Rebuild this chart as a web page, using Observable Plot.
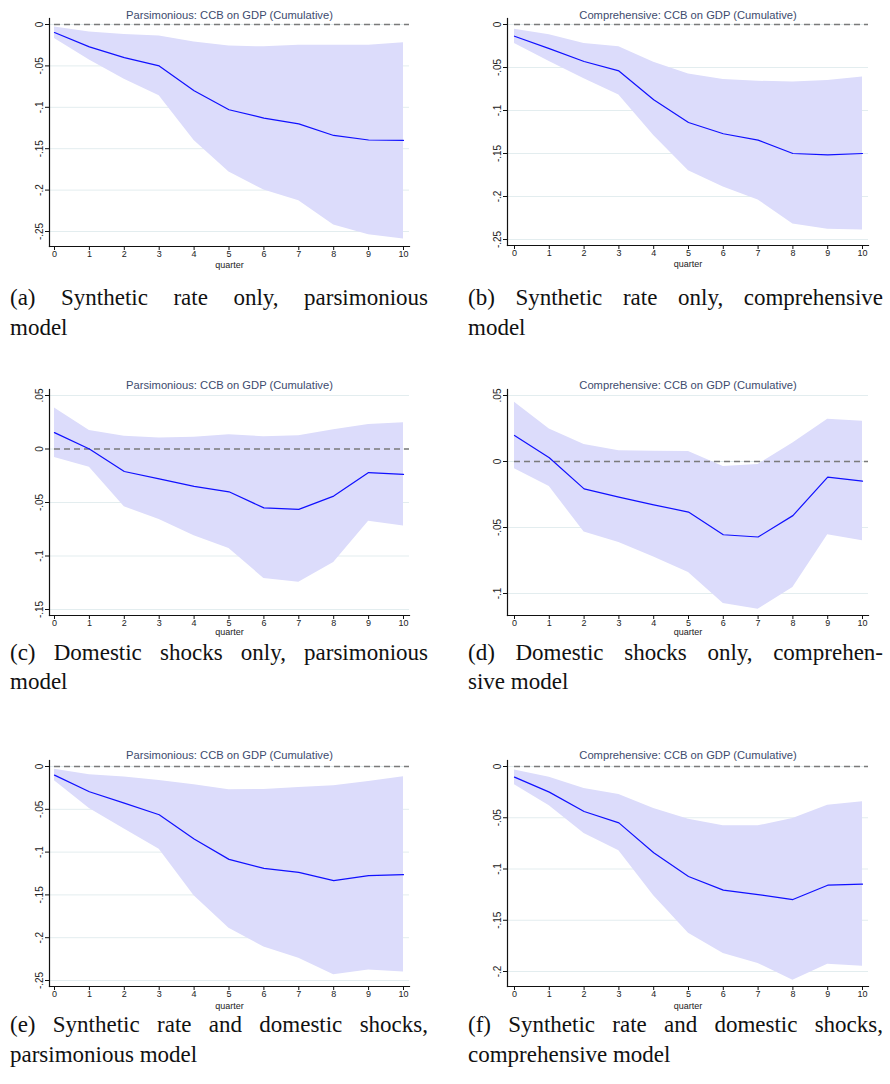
<!DOCTYPE html>
<html><head><meta charset="utf-8">
<script src="https://cdn.jsdelivr.net/npm/d3@7"></script>
<script src="https://cdn.jsdelivr.net/npm/@observablehq/plot@0.6"></script>
<style>
body{margin:0;background:#fff;}
#page{position:relative;width:890px;height:1084px;overflow:hidden;background:#fff;}
.panel{position:absolute;}
.cap{position:absolute;font-family:"Liberation Serif","Times New Roman",serif;font-size:23px;color:#111;}
.cap .l1{line-height:12px;text-align:justify;text-align-last:justify;white-space:nowrap;}
.cap .l2{line-height:29px;margin-top:8.5px;}
</style></head><body><div id="page"></div>
<script>
// ---------- data ----------
const quarters = [0,1,2,3,4,5,6,7,8,9,10];

// (a) Synthetic rate only, parsimonious
const irfA   = [-0.0097,-0.027,-0.040,-0.050,-0.080,-0.103,-0.113,-0.120,-0.134,-0.1395,-0.140];
const upperA = [-0.003,-0.009,-0.012,-0.014,-0.021,-0.026,-0.027,-0.025,-0.025,-0.025,-0.022];
const lowerA = [-0.017,-0.043,-0.066,-0.086,-0.140,-0.178,-0.200,-0.213,-0.242,-0.254,-0.259];
// (b) Synthetic rate only, comprehensive
const irfB   = [-0.0136,-0.028,-0.043,-0.054,-0.0875,-0.114,-0.127,-0.1345,-0.150,-0.1516,-0.150];
const upperB = [-0.0054,-0.012,-0.022,-0.026,-0.044,-0.0575,-0.064,-0.066,-0.067,-0.065,-0.061];
const lowerB = [-0.022,-0.043,-0.063,-0.082,-0.129,-0.170,-0.189,-0.204,-0.232,-0.238,-0.239];
// (c) Domestic shocks only, parsimonious
const irfC   = [0.0153,0.000,-0.021,-0.028,-0.035,-0.040,-0.055,-0.0564,-0.044,-0.022,-0.0237];
const upperC = [0.0383,0.0174,0.012,0.0103,0.011,0.0134,0.0115,0.0125,0.018,0.023,0.0246];
const lowerC = [-0.008,-0.017,-0.054,-0.066,-0.081,-0.093,-0.121,-0.1246,-0.106,-0.0676,-0.072];
// (d) Domestic shocks only, comprehensive
const irfD   = [0.0197,0.0028,-0.0207,-0.027,-0.0328,-0.0383,-0.0555,-0.0572,-0.041,-0.0118,-0.0149];
const upperD = [0.0449,0.0247,0.0129,0.0081,0.0078,0.0076,-0.0038,-0.0023,0.0141,0.032,0.0305];
const lowerD = [-0.0055,-0.019,-0.0534,-0.0613,-0.0723,-0.084,-0.1076,-0.112,-0.0955,-0.0555,-0.060];
// (e) Synthetic rate and domestic shocks, parsimonious
const irfE   = [-0.0101,-0.0295,-0.0428,-0.0564,-0.0848,-0.1085,-0.119,-0.1236,-0.1334,-0.1275,-0.1264];
const upperE = [-0.0031,-0.0097,-0.0124,-0.0163,-0.0214,-0.0272,-0.0268,-0.0245,-0.0226,-0.0175,-0.012];
const lowerE = [-0.0167,-0.049,-0.073,-0.0968,-0.151,-0.189,-0.211,-0.224,-0.2434,-0.2376,-0.240];
// (f) Synthetic rate and domestic shocks, comprehensive
const irfF   = [-0.0104,-0.025,-0.0439,-0.055,-0.0842,-0.1073,-0.1206,-0.125,-0.1298,-0.1158,-0.1148];
const upperF = [-0.0033,-0.0104,-0.0215,-0.0273,-0.041,-0.0514,-0.0579,-0.0579,-0.0507,-0.0377,-0.0345];
const lowerF = [-0.0179,-0.0384,-0.0654,-0.0823,-0.126,-0.1626,-0.1824,-0.1922,-0.2085,-0.193,-0.1948];

// tick labels (top to bottom)
const ticksA = [0,-0.05,-0.1,-0.15,-0.2,-0.25];
const ticksB = [0,-0.05,-0.1,-0.15,-0.2,-0.25];
const ticksC = [0.05,0,-0.05,-0.1,-0.15];
const ticksD = [0.05,0,-0.05,-0.1];
const ticksE = [0,-0.05,-0.1,-0.15,-0.2,-0.25];
const ticksF = [0,-0.05,-0.1,-0.15,-0.2];

const titleParsimonious = "Parsimonious: CCB on GDP (Cumulative)";
const titleComprehensive = "Comprehensive: CCB on GDP (Cumulative)";
const xLabel = "quarter";

const captions = [
  ["(a) Synthetic rate only, parsimonious", "model"],
  ["(b) Synthetic rate only, comprehensive", "model"],
  ["(c) Domestic shocks only, parsimonious", "model"],
  ["(d) Domestic shocks only, comprehen-", "sive model"],
  ["(e) Synthetic rate and domestic shocks,", "parsimonious model"],
  ["(f) Synthetic rate and domestic shocks,", "comprehensive model"]
];

// ---------- layout ----------
const cols = [
  {left: 0,   width: 430, marginLeft: 49, marginRight: 21, insetLeft: 5, insetRight: 6, capLeft: 10,  capWidth: 418},
  {left: 445, width: 440, marginLeft: 62, marginRight: 17, insetLeft: 7, insetRight: 6, capLeft: 468, capWidth: 415}
];
const rows = [
  {top: 0,   height: 275, marginTop: 18, titleDy: -7, quarterDy: 21,   capTop: 292.25},
  {top: 370, height: 275, marginTop: 19, titleDy: -8, quarterDy: 19.5, capTop: 646.75},
  {top: 740, height: 275, marginTop: 20, titleDy: -9, quarterDy: 22,   capTop: 1019.25}
];

const panels = [
  {r:0,c:0, irf:irfA, hi:upperA, lo:lowerA, ticks:ticksA, title:titleParsimonious, mb:29, ib:15},
  {r:0,c:1, irf:irfB, hi:upperB, lo:lowerB, ticks:ticksB, title:titleComprehensive, mb:30, ib:6},
  {r:1,c:0, irf:irfC, hi:upperC, lo:lowerC, ticks:ticksC, title:titleParsimonious, mb:30, ib:6},
  {r:1,c:1, irf:irfD, hi:upperD, lo:lowerD, ticks:ticksD, title:titleComprehensive, mb:30, ib:22},
  {r:2,c:0, irf:irfE, hi:upperE, lo:lowerE, ticks:ticksE, title:titleParsimonious, mb:29, ib:6},
  {r:2,c:1, irf:irfF, hi:upperF, lo:lowerF, ticks:ticksF, title:titleComprehensive, mb:29, ib:15}
];

const fmt = d => d === 0 ? "0" : String(+d.toFixed(2)).replace(/^(-?)0\./, "$1.");

const page = document.getElementById("page");

panels.forEach((p, i) => {
  const col = cols[p.c], row = rows[p.r];
  const data = quarters.map((q, k) => ({q, irf: p.irf[k], hi: p.hi[k], lo: p.lo[k]}));
  const chart = Plot.plot({
    width: col.width,
    height: row.height,
    marginLeft: col.marginLeft,
    marginRight: col.marginRight,
    marginTop: row.marginTop,
    marginBottom: p.mb,
    style: {fontFamily: "'Liberation Sans', Arial, sans-serif", fontSize: "10px", background: "transparent", overflow: "visible", color: "#222"},
    x: {domain: [quarters[0], quarters[quarters.length - 1]], insetLeft: col.insetLeft, insetRight: col.insetRight, label: null},
    y: {domain: [p.ticks[p.ticks.length - 1], p.ticks[0]], insetTop: 6, insetBottom: p.ib, label: null},
    marks: [
      Plot.gridY(p.ticks, {stroke: "#e3edef", strokeOpacity: 1, strokeWidth: 1}),
      Plot.areaY(data, {x: "q", y1: "lo", y2: "hi", fill: "#dcdcfb", fillOpacity: 1}),
      Plot.ruleY([0], {stroke: "#7a7a7a", strokeWidth: 1.6, strokeDasharray: "6,4", insetLeft: col.insetLeft}),
      Plot.lineY(data, {x: "q", y: "irf", stroke: "#1010ff", strokeWidth: 1.2}),
      Plot.axisY(p.ticks, {tickRotate: -90, tickFormat: fmt, tickSize: 4, tickPadding: 3, fill: "#222", stroke: "#111", label: null}),
      Plot.axisX(quarters, {tickSize: 4, tickPadding: 0, fontSize: 9, fill: "#222", stroke: "#111", label: null}),
      Plot.frame({anchor: "left", stroke: "#111", strokeWidth: 1.2}),
      Plot.frame({anchor: "bottom", stroke: "#111", strokeWidth: 1.2}),
      Plot.text([p.title], {frameAnchor: "top", dy: row.titleDy, fill: "#3d4b6e", fontSize: 11.2}),
      Plot.text([xLabel], {frameAnchor: "bottom", dy: row.quarterDy, fill: "#222", fontSize: 9})
    ]
  });
  const holder = document.createElement("div");
  holder.className = "panel";
  holder.style.left = col.left + "px";
  holder.style.top = row.top + "px";
  holder.appendChild(chart);
  page.appendChild(holder);

  const cap = document.createElement("div");
  cap.className = "cap";
  cap.style.left = col.capLeft + "px";
  cap.style.top = row.capTop + "px";
  cap.style.width = col.capWidth + "px";
  const l1 = document.createElement("div");
  l1.className = "l1";
  l1.textContent = captions[i][0];
  const l2 = document.createElement("div");
  l2.className = "l2";
  l2.textContent = captions[i][1];
  cap.appendChild(l1);
  cap.appendChild(l2);
  page.appendChild(cap);
});
</script>
</body></html>
